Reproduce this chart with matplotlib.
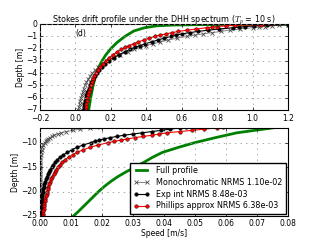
import matplotlib
matplotlib.use('Agg')
import matplotlib.pyplot as plt

plt.style.use('classic')

# shared depth grid for the marked profiles [m]
depth = [0, -0.05, -0.1, -0.15, -0.2, -0.25, -0.3, -0.4, -0.5, -0.6, -0.7, -0.8,
         -0.9, -1.0, -1.15, -1.3, -1.45, -1.6, -1.75, -1.9, -2.05, -2.25, -2.5,
         -2.75, -3, -3.25, -3.5, -3.75, -4, -4.25, -4.5, -4.75, -5, -5.25, -5.5,
         -5.75, -6, -6.25, -6.5, -6.75, -7, -7.25, -7.5, -7.75, -8, -8.25, -8.5,
         -8.75, -9, -9.25, -9.5, -9.75, -10, -10.5, -11, -11.5, -12, -12.5, -13,
         -13.5, -14, -14.5, -15, -15.5, -16, -16.5, -17, -17.5, -18, -18.5, -19,
         -19.5, -20, -20.5, -21, -21.5, -22, -22.5, -23, -23.5, -24, -24.5, -25]

mono = [1.25, 1.2, 1.15, 1.11, 1.07, 1.035, 1.0, 0.93, 0.87, 0.82, 0.77, 0.72,
        0.675, 0.63, 0.575, 0.525, 0.48, 0.44, 0.40, 0.365, 0.333, 0.295, 0.25,
        0.213, 0.18, 0.153, 0.13, 0.112, 0.096, 0.083, 0.072, 0.062, 0.054,
        0.047, 0.041, 0.036, 0.031, 0.027, 0.023, 0.0195, 0.016, 0.013, 0.0105,
        0.0085, 0.0068, 0.0057, 0.0046, 0.0038, 0.0031, 0.0026, 0.0021, 0.0018,
        0.0015, 0.001, 0.0007, 0.0005, 0.0003, 0.0002, 0.00015, 0.0001, 0.0001,
        0, 0, 0, 0, 0, 0, 0, 0, 0, 0, 0, 0, 0, 0, 0, 0, 0, 0, 0, 0, 0, 0]

expint = [1.45, 1.2, 1.08, 1.01, 0.96, 0.925, 0.89, 0.81, 0.75, 0.69, 0.645, 0.6,
          0.57, 0.54, 0.5, 0.465, 0.43, 0.395, 0.365, 0.335, 0.31, 0.28, 0.245,
          0.215, 0.19, 0.168, 0.15, 0.134, 0.12, 0.108, 0.098, 0.089, 0.081,
          0.074, 0.068, 0.062, 0.057, 0.053, 0.049, 0.047, 0.045, 0.042, 0.039,
          0.036, 0.033, 0.03, 0.027, 0.0247, 0.0225, 0.0207, 0.019, 0.0176,
          0.0165, 0.0138, 0.0118, 0.0102, 0.0088, 0.0075, 0.0064, 0.0056, 0.0049,
          0.0043, 0.0038, 0.0033, 0.0029, 0.0025, 0.0022, 0.0019, 0.0016, 0.0014,
          0.0012, 0.001, 0.0009, 0.0008, 0.0007, 0.0006, 0.0005, 0.00045,
          0.0004, 0.00035, 0.0003, 0.00025, 0.0002]

phillips = [1.35, 1.05, 0.9, 0.85, 0.8, 0.77, 0.74, 0.68, 0.63, 0.58, 0.545, 0.51,
            0.48, 0.45, 0.415, 0.385, 0.355, 0.328, 0.302, 0.28, 0.26, 0.237,
            0.212, 0.19, 0.17, 0.153, 0.139, 0.127, 0.116, 0.107, 0.099, 0.092,
            0.086, 0.08, 0.075, 0.071, 0.067, 0.064, 0.061, 0.059, 0.057, 0.053,
            0.049, 0.045, 0.041, 0.0385, 0.036, 0.0332, 0.0305, 0.0282, 0.026,
            0.024, 0.022, 0.0187, 0.016, 0.0138, 0.012, 0.0105, 0.0092, 0.0081,
            0.0072, 0.0064, 0.0058, 0.0052, 0.0048, 0.0044, 0.004, 0.0036,
            0.0033, 0.003, 0.0027, 0.0025, 0.0023, 0.0021, 0.0019, 0.0017,
            0.0016, 0.0014, 0.0013, 0.0012, 0.0011, 0.001, 0.0009]

full_depth = [0, -0.02, -0.05, -0.08, -0.14, -0.3, -0.56, -1.0, -1.5, -2, -2.5,
              -3, -3.5, -4, -5, -6, -7, -8, -9, -10, -11, -12, -13, -14, -15,
              -16, -17, -18, -19, -20, -21, -22, -23, -24, -25]
full = [1.6, 0.95, 0.68, 0.55, 0.46, 0.39, 0.33, 0.28, 0.235, 0.2, 0.172, 0.15,
        0.132, 0.118, 0.1, 0.086, 0.075, 0.0635, 0.0565, 0.05, 0.0445, 0.0395,
        0.0363, 0.0336, 0.0307, 0.0277, 0.025, 0.0227, 0.0207, 0.0189, 0.0173,
        0.0157, 0.0141, 0.0125, 0.0108]

labels = ['Full profile', 'Monochromatic NRMS 1.10e-02',
          'Exp int NRMS 8.48e-03', 'Phillips approx NRMS 6.38e-03']

fig = plt.figure(figsize=(3.2, 2.4), dpi=100, facecolor='white')
ax1 = fig.add_axes([0.125, 0.5417, 0.775, 0.358])
ax2 = fig.add_axes([0.125, 0.1, 0.775, 0.367])

for ax in (ax1, ax2):
    ax.plot(full, full_depth, color='green', lw=2, label=labels[0])
    ax.plot(mono, depth, color='0.45', lw=0.6, marker='x', ms=2.8, mew=0.6,
            mec='0.3', label=labels[1])
    ax.plot(expint, depth, color='k', lw=0.8, marker='o', ms=2.6, mew=0.3,
            mfc='k', mec='k', label=labels[2])
    ax.plot(phillips, depth, color='r', lw=0.8, marker='o', ms=2.6, mew=0.3,
            mfc='r', mec='k', label=labels[3])
    ax.grid(True, color='0.6', linestyle=':', linewidth=0.6)
    ax.tick_params(labelsize=5.5, length=2.5, width=0.5, pad=2)
    ax.set_ylabel('Depth [m]', fontsize=5.5, labelpad=1)
    for s in ax.spines.values():
        s.set_linewidth(0.8)

ax1.set_xlim(-0.2, 1.2)
ax1.set_ylim(-7, 0)
ax1.set_yticks([0, -1, -2, -3, -4, -5, -6, -7])
ax1.tick_params(axis='x', pad=3)
ax1.set_title('Stokes drift profile under the DHH spectrum ($T_p$ = 10 s)',
              fontsize=5.8, pad=2)
ax1.text(0.0, -1.0, '(d)', fontsize=5.5)

ax2.set_xlim(0, 0.08)
ax2.set_ylim(-25, -7)
ax2.set_yticks([-10, -15, -20, -25])
ax2.set_xlabel('Speed [m/s]', fontsize=5.5, labelpad=1)
ax2.legend(loc='lower right', fontsize=5.8, numpoints=2, frameon=True,
           fancybox=False, borderpad=0.4, labelspacing=0.35, handlelength=2.0,
           borderaxespad=0.3)

fig.savefig('out.png', dpi=100, facecolor='white')
